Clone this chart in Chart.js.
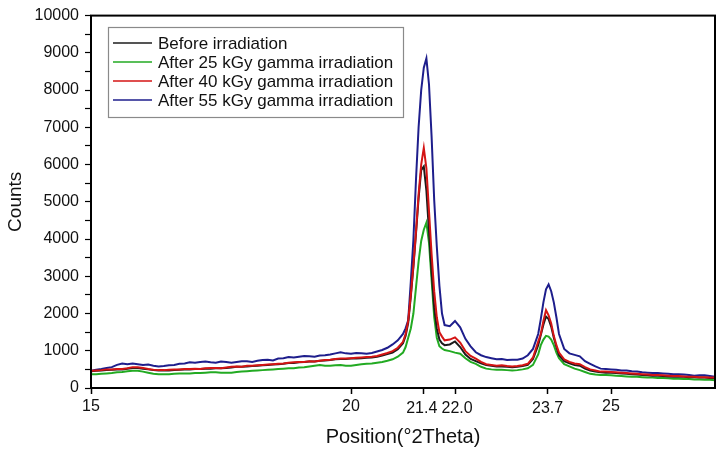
<!DOCTYPE html>
<html>
<head>
<meta charset="utf-8">
<script src="https://cdn.jsdelivr.net/npm/chart.js@4.4.1/dist/chart.umd.min.js"></script>
<style>
  html, body { margin: 0; padding: 0; background: #ffffff; }
  #wrap { width: 724px; height: 453px; }
</style>
</head>
<body>
<div id="wrap"><canvas id="c" width="724" height="453"></canvas></div>
<script>
// ---- Data ----
const positions = [
  // 15.0 - 20.8
  15.0, 15.1, 15.2, 15.3, 15.4, 15.5, 15.6, 15.7, 15.8, 15.9,
  16.0, 16.1, 16.2, 16.3, 16.4, 16.5, 16.6, 16.7, 16.8, 16.9,
  17.0, 17.1, 17.2, 17.3, 17.4, 17.5, 17.6, 17.7, 17.8, 17.9,
  18.0, 18.1, 18.2, 18.3, 18.4, 18.5, 18.6, 18.7, 18.8, 18.9,
  19.0, 19.1, 19.2, 19.3, 19.4, 19.5, 19.6, 19.7, 19.8, 19.9,
  20.0, 20.1, 20.2, 20.3, 20.4, 20.5, 20.6, 20.7, 20.8,
  // main peak
  20.9, 21.0, 21.05, 21.1, 21.15, 21.2, 21.25, 21.3, 21.35, 21.4,
  21.45, 21.5, 21.55, 21.6, 21.65, 21.7, 21.75, 21.8, 21.9, 22.0,
  22.1, 22.2, 22.3,
  // valley
  22.4, 22.5, 22.6, 22.7, 22.8, 22.9, 23.0, 23.1, 23.2, 23.3, 23.4, 23.5,
  // second peak
  23.6, 23.65, 23.7, 23.75, 23.8, 23.85, 23.9, 23.95, 24.0, 24.1,
  24.2, 24.3, 24.4, 24.5,
  // tail
  24.6, 24.7, 24.8, 24.9, 25.0, 25.1, 25.2, 25.3, 25.4, 25.5,
  25.6, 25.7, 25.8, 25.9, 26.0, 26.1, 26.2, 26.3, 26.4, 26.5,
  26.6, 26.7, 26.8, 26.9, 27.0
];

const beforeIrradiation = [
  450, 460, 470, 480, 490, 500, 500, 520, 540, 540,
  520, 500, 480, 470, 470, 470, 480, 490, 500, 500,
  510, 510, 520, 520, 530, 530, 540, 550, 570, 570,
  580, 590, 600, 610, 620, 630, 640, 650, 670, 670,
  690, 700, 710, 710, 730, 740, 750, 770, 780, 780,
  790, 790, 800, 810, 820, 840, 870, 910, 950,
  1040, 1200, 1400, 1750, 2450, 3250, 4150, 5100, 5850, 5950,
  5300, 4200, 3100, 2150, 1600, 1300, 1200, 1150, 1170, 1250,
  1100, 900, 780,
  720, 660, 620, 600, 580, 580, 570, 560, 570, 590, 620, 780,
  1150, 1420, 1700, 1920, 1850, 1650, 1350, 1100, 880, 720,
  660, 620, 600, 520,
  470, 440, 420, 410, 410, 400, 390, 380, 370, 360,
  350, 340, 330, 330, 320, 310, 300, 300, 300, 290,
  290, 280, 280, 270, 270
];

const after25kGy = [
  370, 370, 380, 390, 400, 420, 430, 450, 460, 460,
  440, 410, 380, 370, 370, 370, 380, 390, 390, 390,
  400, 400, 410, 420, 420, 410, 410, 410, 430, 440,
  450, 460, 470, 480, 490, 500, 510, 520, 530, 530,
  550, 560, 580, 600, 620, 600, 600, 610, 620, 600,
  600, 620, 640, 650, 660, 680, 700, 730, 770,
  840, 950, 1100, 1350, 1600, 2000, 2700, 3400, 3950, 4250,
  4440, 3900, 2900, 1900, 1350, 1120, 1060, 1020, 990, 950,
  920, 800, 700,
  650, 570, 520, 500, 490, 490, 480, 470, 480, 500, 530, 620,
  900, 1150, 1300, 1400, 1380, 1300, 1150, 950, 800, 640,
  580, 520, 480, 430,
  380, 360, 350, 350, 340, 330, 320, 310, 300, 300,
  290, 280, 280, 270, 270, 260, 250, 250, 240, 240,
  230, 230, 220, 220, 210
];

const after40kGy = [
  460, 470, 480, 500, 500, 510, 510, 530, 560, 560,
  540, 510, 490, 480, 480, 490, 500, 500, 510, 510,
  520, 510, 530, 540, 540, 530, 550, 570, 580, 570,
  600, 600, 610, 620, 630, 640, 650, 660, 680, 690,
  700, 700, 720, 710, 730, 750, 760, 780, 790, 790,
  800, 810, 820, 830, 840, 860, 900, 940, 990,
  1080, 1240, 1450, 1800, 2500, 3300, 4200, 5200, 6000, 6450,
  5900, 4750, 3600, 2600, 1900, 1500, 1380, 1280, 1300, 1360,
  1220, 990, 860,
  790, 700, 640, 620, 600, 610, 590, 580, 590, 610, 650, 820,
  1250, 1450, 1800, 2090, 1950, 1730, 1400, 1150, 950, 770,
  700, 660, 640, 560,
  500, 470, 440, 440, 430, 420, 410, 400, 390, 380,
  370, 360, 350, 350, 340, 330, 320, 320, 310, 300,
  300, 290, 290, 280, 280
];

const after55kGy = [
  460, 490, 510, 540, 560, 620, 660, 640, 660, 640,
  620, 630, 600, 580, 590, 610, 620, 650, 660, 690,
  680, 700, 710, 690, 680, 710, 700, 680, 700, 720,
  720, 700, 730, 750, 760, 740, 790, 800, 830, 820,
  840, 860, 850, 840, 870, 880, 900, 930, 960, 930,
  920, 940, 930, 920, 940, 980, 1020, 1080, 1170,
  1280, 1450, 1600, 1820, 2850, 3980, 5600, 7000, 8000, 8600,
  8850, 8150, 6750, 5050, 3800, 2750, 2000, 1690, 1660, 1800,
  1630, 1320, 1120,
  960, 880, 830, 800, 770, 780, 750, 760, 760, 790, 880, 1050,
  1450, 1850, 2300, 2650, 2780, 2600, 2300, 1900, 1450, 1050,
  930, 890, 850, 720,
  650, 580, 520, 510, 500, 490, 470, 470, 450, 440,
  420, 410, 400, 400, 390, 380, 370, 370, 360, 350,
  330, 340, 340, 320, 300
];

const seriesLabels = [
  "Before irradiation",
  "After 25 kGy gamma irradiation",
  "After 40 kGy gamma irradiation",
  "After 55 kGy gamma irradiation"
];
const seriesColors = ["#1c1c1c", "#22aa22", "#d41414", "#1e1e8c"];

const xTickPositions = [15, 20, 21.4, 22.0, 23.78, 25];
const xTickLabels = ["15", "20", "21.4", "22.0", "23.7", "25"];
const xTickLabelPositions = [15, 20, 21.36, 22.04, 23.78, 25];

// ---- Build chart ----
const seriesValues = [beforeIrradiation, after25kGy, after40kGy, after55kGy];
const FONT = "'Liberation Sans', Arial, sans-serif";

const datasets = seriesValues.map((vals, i) => ({
  label: seriesLabels[i],
  data: positions.map((x, j) => ({ x: x, y: vals[j] })),
  borderColor: seriesColors[i],
  backgroundColor: seriesColors[i],
  borderWidth: 2,
  pointRadius: 0,
  tension: 0,
  fill: false,
  order: [1, 3, 0, 2][i]
}));

const framePlugin = {
  id: 'frame',
  afterDraw(chart) {
    const ctx = chart.ctx;
    const a = chart.chartArea;
    ctx.save();
    ctx.strokeStyle = '#000';
    ctx.lineWidth = 2;
    ctx.strokeRect(a.left, a.top, a.right - a.left, a.bottom - a.top);

    // x tick labels
    const xs = chart.scales.x;
    ctx.font = "16px " + FONT;
    ctx.fillStyle = '#111';
    ctx.textAlign = 'center';
    ctx.textBaseline = 'top';
    xTickLabels.forEach((t, i) => {
      const px = xs.getPixelForValue(xTickLabelPositions[i]);
      const dy = (t.indexOf('.') >= 0) ? 2 : 0;
      ctx.fillText(t, px, a.bottom + 11 + dy);
    });

    // legend box
    const bx = 108, by = 27, bw = 295, bh = 90;
    ctx.fillStyle = '#ffffff';
    ctx.fillRect(bx, by, bw, bh);
    ctx.strokeStyle = '#8a8a8a';
    ctx.lineWidth = 1.2;
    ctx.strokeRect(bx + 0.5, by + 0.5, bw, bh);
    ctx.font = "17px " + FONT;
    ctx.textBaseline = 'middle';
    ctx.textAlign = 'left';
    chart.data.datasets.forEach((ds, i) => {
      const y = 43 + i * 19;
      ctx.strokeStyle = ds.borderColor;
      ctx.lineWidth = 1.6;
      ctx.beginPath();
      ctx.moveTo(113, y);
      ctx.lineTo(152, y);
      ctx.stroke();
      ctx.fillStyle = '#111';
      ctx.fillText(ds.label, 158, y + 1);
    });
    ctx.restore();
  }
};

new Chart(document.getElementById('c'), {
  type: 'line',
  data: { datasets: datasets },
  options: {
    responsive: false,
    devicePixelRatio: 1,
    animation: false,
    events: [],
    layout: { padding: { top: 14, right: 9, left: 0, bottom: 0 } },
    plugins: {
      legend: { display: false },
      tooltip: { enabled: false }
    },
    scales: {
      x: {
        type: 'linear',
        min: 15,
        max: 27,
        afterFit(s) { s.height = 65; },
        afterBuildTicks(s) { s.ticks = xTickPositions.map(v => ({ value: v })); },
        ticks: {
          autoSkip: false,
          maxRotation: 0,
          padding: 5,
          color: 'rgba(0,0,0,0)',
          font: { family: FONT, size: 16 },
          callback: (v, i) => xTickLabels[i]
        },
        grid: {
          display: true,
          drawOnChartArea: false,
          drawTicks: true,
          tickLength: 6,
          tickColor: '#000',
          tickWidth: 1.5
        },
        border: { display: false },
        title: {
          display: true,
          text: 'Position(°2Theta)',
          color: '#111',
          font: { family: FONT, size: 20 },
          padding: { top: 0, bottom: 4 }
        }
      },
      y: {
        type: 'linear',
        min: 0,
        max: 10000,
        afterFit(s) { s.width = 91; },
        ticks: {
          stepSize: 500,
          autoSkip: false,
          padding: 6,
          color: '#111',
          font: { family: FONT, size: 16 },
          callback: v => (v % 1000 === 0 ? String(v) : '')
        },
        grid: {
          display: true,
          drawOnChartArea: false,
          drawTicks: true,
          tickLength: 6,
          tickColor: '#000',
          tickWidth: 1.2
        },
        border: { display: false },
        title: {
          display: true,
          text: 'Counts',
          color: '#111',
          font: { family: FONT, size: 19 },
          padding: { top: 4, bottom: 0 }
        }
      }
    }
  },
  plugins: [framePlugin]
});
</script>
</body>
</html>
